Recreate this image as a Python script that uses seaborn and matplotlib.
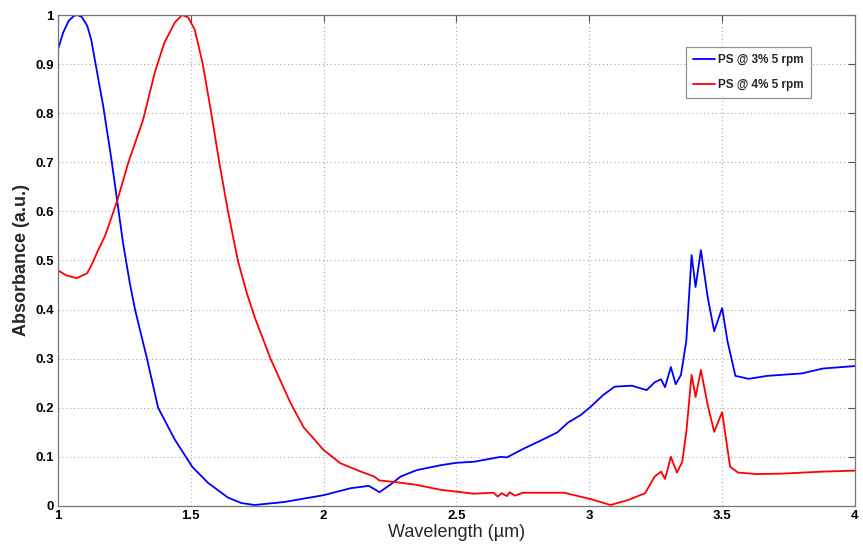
import numpy as np
import pandas as pd
import matplotlib
matplotlib.use("Agg")
from matplotlib import pyplot as plt
import seaborn as sns

# values
wl_3pct = [1.00, 1.02, 1.04, 1.06, 1.072, 1.09, 1.11, 1.125, 1.14, 1.17, 1.20, 1.222,
           1.245, 1.27, 1.29, 1.335, 1.377, 1.44, 1.505, 1.565, 1.64, 1.69, 1.74, 1.85,
           2.00, 2.10, 2.17, 2.195, 2.21, 2.25, 2.29, 2.35, 2.44, 2.50, 2.565, 2.666,
           2.69, 2.75, 2.82, 2.88, 2.92, 2.967, 3.005, 3.05, 3.095, 3.16, 3.216, 3.246,
           3.27, 3.285, 3.307, 3.325, 3.345, 3.365, 3.385, 3.40, 3.42, 3.446, 3.47,
           3.50, 3.52, 3.55, 3.60, 3.67, 3.80, 3.88, 4.00]
abs_3pct = [0.930, 0.965, 0.988, 0.998, 1.000, 0.996, 0.978, 0.950, 0.905, 0.815, 0.710,
            0.625, 0.535, 0.455, 0.400, 0.300, 0.200, 0.135, 0.080, 0.047, 0.017, 0.006,
            0.002, 0.008, 0.022, 0.036, 0.041, 0.033, 0.028, 0.043, 0.060, 0.073, 0.083,
            0.088, 0.090, 0.100, 0.099, 0.116, 0.134, 0.150, 0.170, 0.185, 0.202, 0.225,
            0.243, 0.245, 0.236, 0.252, 0.258, 0.242, 0.283, 0.248, 0.267, 0.336, 0.511,
            0.446, 0.521, 0.424, 0.356, 0.403, 0.336, 0.265, 0.259, 0.265, 0.270, 0.280,
            0.285]

wl_4pct = [1.00, 1.03, 1.07, 1.11, 1.13, 1.15, 1.177, 1.222, 1.265, 1.32, 1.365, 1.40,
           1.44, 1.467, 1.49, 1.515, 1.545, 1.577, 1.607, 1.64, 1.677, 1.71, 1.74, 1.80,
           1.875, 1.925, 2.00, 2.063, 2.14, 2.19, 2.21, 2.28, 2.35, 2.44, 2.565, 2.64,
           2.655, 2.67, 2.69, 2.70, 2.72, 2.75, 2.905, 3.005, 3.08, 3.145, 3.21, 3.246,
           3.27, 3.285, 3.307, 3.33, 3.35, 3.365, 3.385, 3.40, 3.42, 3.446, 3.47, 3.50,
           3.53, 3.56, 3.63, 3.73, 3.88, 4.00]
abs_4pct = [0.480, 0.470, 0.464, 0.474, 0.495, 0.520, 0.550, 0.620, 0.700, 0.786, 0.884,
            0.943, 0.985, 1.000, 0.995, 0.970, 0.900, 0.800, 0.700, 0.600, 0.500, 0.435,
            0.385, 0.300, 0.210, 0.160, 0.114, 0.087, 0.070, 0.060, 0.052, 0.048, 0.043,
            0.033, 0.025, 0.027, 0.019, 0.026, 0.020, 0.028, 0.021, 0.027, 0.027, 0.014,
            0.002, 0.012, 0.026, 0.060, 0.070, 0.055, 0.100, 0.068, 0.090, 0.150, 0.267,
            0.222, 0.277, 0.205, 0.151, 0.191, 0.080, 0.068, 0.065, 0.066, 0.070, 0.072]

labels = ["PS @ 3% 5 rpm", "PS @ 4% 5 rpm"]
colors = ["#0000ff", "#ff0000"]

df = pd.concat([
    pd.DataFrame({"wl": wl_3pct, "abs": abs_3pct, "sample": labels[0]}),
    pd.DataFrame({"wl": wl_4pct, "abs": abs_4pct, "sample": labels[1]}),
])

sns.set_style("white")
plt.rcParams["font.family"] = ["Liberation Sans", "DejaVu Sans"]

fig = plt.figure(figsize=(8.63, 5.46), dpi=100)
ax = fig.add_axes([0.0672, 0.0733, 0.9235, 0.8992])

sns.lineplot(data=df, x="wl", y="abs", hue="sample", palette=colors,
             estimator=None, sort=False, linewidth=1.3, ax=ax)

ax.set_xlim(1, 4)
ax.set_ylim(0, 1)
ax.set_xticks(np.arange(1, 4.01, 0.5))
ax.set_xticklabels(["1", "1.5", "2", "2.5", "3", "3.5", "4"])
ax.set_yticks(np.arange(0, 1.01, 0.1))
ax.set_yticklabels(["0"] + ["%.1f" % v for v in np.arange(0.1, 0.95, 0.1)] + ["1"])
ax.tick_params(direction="in", length=5, width=0.8, top=True, right=True,
               colors="#555555", labelcolor="black", labelsize=9.5, pad=3)
for t in ax.get_xticklabels() + ax.get_yticklabels():
    t.set_fontweight("bold")
ax.grid(True, linestyle=(0, (1, 2.5)), color="#aaaaaa", linewidth=0.8)
for s in ax.spines.values():
    s.set_color("#777777")
    s.set_linewidth(0.9)

ax.set_xlabel("Wavelength (\u00b5m)", fontsize=13, labelpad=1)
ax.set_ylabel("Absorbance (a.u.)", fontsize=13, fontweight="bold", labelpad=4)

leg = ax.legend(loc="upper left", bbox_to_anchor=(0.781, 0.947), frameon=True,
                fancybox=False, edgecolor="#777777", handlelength=1.8,
                handletextpad=0.3, borderpad=0.6, labelspacing=1.1,
                prop={"weight": "bold", "size": 8.5})
leg.get_frame().set_linewidth(0.9)

fig.savefig("out.png", dpi=100)
